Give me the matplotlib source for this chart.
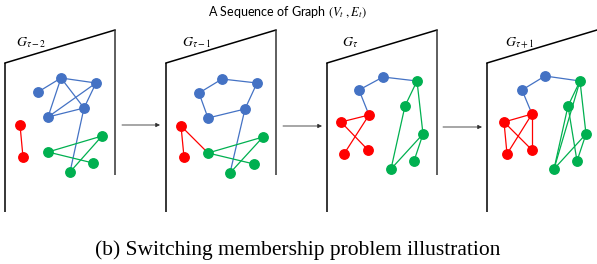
import matplotlib.pyplot as plt
from matplotlib.patches import FancyArrowPatch

plt.rcParams['mathtext.fontset'] = 'stix'

# colours of the three groups
BLUE = '#4472C4'
RED = '#FF0000'
GREEN = '#00B050'

# panel frames (pixel coordinates, y down)
panel_left = [5, 166, 327, 487]
panel_labels = [r'$G_{\tau-2}$', r'$G_{\tau-1}$', r'$G_{\tau}$', r'$G_{\tau+1}$']
label_x = [16, 182, 342, 505]

# node positions per panel: (x, y)
blue_nodes = [
    [(38, 92), (61, 78), (96, 83), (84, 108), (48, 117)],
    [(199, 93), (222, 79), (257, 83), (245, 109), (208, 118)],
    [(359, 90), (383, 77)],
    [(522, 90), (545, 76)],
]
red_nodes = [
    [(20, 125), (23, 157)],
    [(181, 126), (184, 157)],
    [(369, 115), (341, 122), (344, 154), (368, 150)],
    [(532, 114), (504, 122), (507, 154), (532, 150)],
]
green_nodes = [
    [(48, 152), (102, 136), (93, 163), (70, 172)],
    [(208, 153), (263, 137), (254, 164), (230, 173)],
    [(417, 81), (405, 106), (423, 134), (414, 161), (391, 169)],
    [(580, 81), (568, 106), (586, 134), (577, 161), (554, 169)],
]

# edges: (colour, group a, index a, group b, index b)
edges = [
    [('b', 'b', 0, 'b', 1), ('b', 'b', 1, 'b', 2), ('b', 'b', 1, 'b', 3),
     ('b', 'b', 1, 'b', 4), ('b', 'b', 2, 'b', 3), ('b', 'b', 2, 'b', 4),
     ('b', 'b', 4, 'b', 3), ('b', 'b', 3, 'g', 3),
     ('r', 'r', 0, 'r', 1),
     ('g', 'g', 0, 'g', 1), ('g', 'g', 0, 'g', 2), ('g', 'g', 1, 'g', 3)],
    [('b', 'b', 0, 'b', 1), ('b', 'b', 1, 'b', 2), ('b', 'b', 2, 'b', 3),
     ('b', 'b', 3, 'b', 4), ('b', 'b', 4, 'b', 0), ('b', 'b', 3, 'g', 3),
     ('r', 'r', 0, 'r', 1), ('r', 'r', 0, 'g', 0),
     ('g', 'g', 0, 'g', 1), ('g', 'g', 0, 'g', 2), ('g', 'g', 1, 'g', 3)],
    [('b', 'b', 0, 'b', 1), ('b', 'b', 1, 'g', 0), ('b', 'b', 0, 'r', 0),
     ('r', 'r', 0, 'r', 1), ('r', 'r', 1, 'r', 3), ('r', 'r', 0, 'r', 2),
     ('g', 'g', 0, 'g', 1), ('g', 'g', 0, 'g', 2), ('g', 'g', 1, 'g', 4),
     ('g', 'g', 2, 'g', 4), ('g', 'g', 2, 'g', 3)],
    [('b', 'b', 0, 'b', 1), ('b', 'b', 1, 'g', 0), ('b', 'b', 0, 'r', 0),
     ('r', 'r', 0, 'r', 1), ('r', 'r', 1, 'r', 3), ('r', 'r', 0, 'r', 2),
     ('r', 'r', 1, 'r', 2), ('r', 'r', 0, 'r', 3),
     ('g', 'g', 0, 'g', 1), ('g', 'g', 0, 'g', 2), ('g', 'g', 0, 'g', 4),
     ('g', 'g', 1, 'g', 4), ('g', 'g', 1, 'g', 3), ('g', 'g', 2, 'g', 4),
     ('g', 'g', 2, 'g', 3)],
]

# arrows between panels: (x start, x end, y)
arrows = [(122, 160, 125), (283, 322, 126), (443, 482, 127)]

colors = {'b': BLUE, 'r': RED, 'g': GREEN}

fig = plt.figure(figsize=(5.97, 2.64), dpi=100)
ax = fig.add_axes([0, 0, 1, 1])
ax.set_xlim(0, 597)
ax.set_ylim(264, 0)
ax.axis('off')

# title
ax.text(288, 12, r'A Sequence of Graph $(V_t\ ,E_t)$', ha='center', va='center',
        fontsize=9, family='Lato')

for i in range(4):
    x0 = panel_left[i]
    # frame: left edge, top edge, right edge
    ax.plot([x0, x0], [63, 212], color='black', lw=1.1, solid_capstyle='butt')
    ax.plot([x0, x0 + 110], [63, 30], color='black', lw=1.1)
    if i < 3:
        ax.plot([x0 + 110, x0 + 110], [30, 175], color='#333333', lw=1.1,
                solid_capstyle='butt')
    ax.text(label_x[i], 43, panel_labels[i], ha='left', va='center', fontsize=10)

    nodes = {'b': blue_nodes[i], 'r': red_nodes[i], 'g': green_nodes[i]}
    for c, ga, ia, gb, ib in edges[i]:
        xa, ya = nodes[ga][ia]
        xb, yb = nodes[gb][ib]
        ax.plot([xa, xb], [ya, yb], color=colors[c], lw=0.9, zorder=2)
    for g in ['b', 'r', 'g']:
        xs = [p[0] for p in nodes[g]]
        ys = [p[1] for p in nodes[g]]
        ax.plot(xs, ys, 'o', color=colors[g], markersize=6.8, ls='none', zorder=3)

for xs, xe, y in arrows:
    ax.add_patch(FancyArrowPatch((xs, y), (xe, y), arrowstyle='-|>', mutation_scale=6,
                                 color='#303030', lw=0.6, shrinkA=0, shrinkB=0))

# caption
ax.text(298, 250, '(b) Switching membership problem illustration', ha='center',
        va='center', fontsize=15.5, family='Liberation Serif')

fig.savefig('out.png', dpi=100)
